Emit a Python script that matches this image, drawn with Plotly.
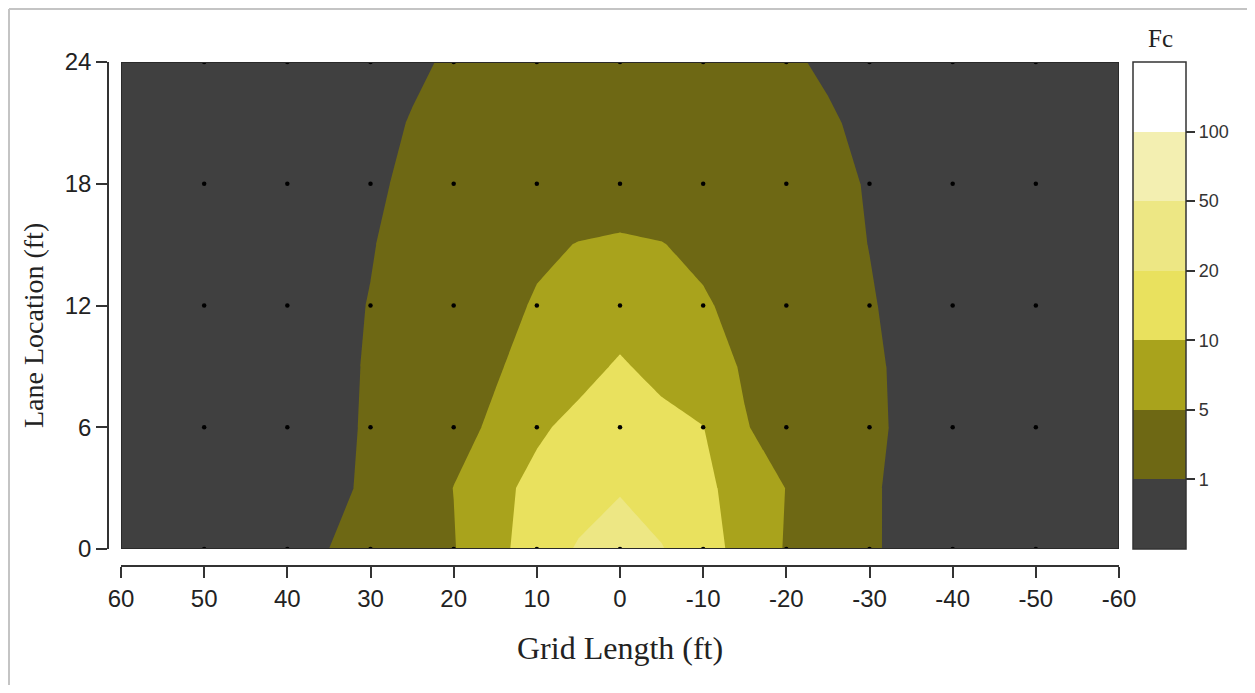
import numpy as np
import plotly.graph_objects as go

# ---- data -------------------------------------------------------------
grid_x = [60, 55, 50, 45, 40, 35, 30, 25, 20, 15, 10, 5, 0,
          -5, -10, -15, -20, -25, -30, -35, -40, -45, -50, -55, -60]
lane_y = [0, 3, 6, 9, 12, 15, 18, 21, 24]

fc_y0 = [0.1, 0.28, 0.46, 0.64, 0.82, 1.0, 2.28, 3.56, 4.82, 8.7, 14.6, 22.7, 38,
         21.5, 13.9, 8.3, 4.72, 3.08, 1.48, 0.72, 0.6, 0.5, 0.4, 0.26, 0.1]
fc_y3 = [0.1, 0.26, 0.42, 0.55, 0.66, 0.75, 1.68, 3.32, 5.05, 8.85, 12.3, 15.7, 19,
         15.4, 11.8, 8.3, 4.92, 3.24, 1.52, 0.7, 0.6, 0.5, 0.4, 0.26, 0.1]
fc_y6 = [0.1, 0.26, 0.42, 0.55, 0.67, 0.77, 1.4, 2.68, 3.96, 5.65, 9.35, 12.3, 15,
         12.6, 10.2, 5.2, 3.88, 2.72, 1.52, 0.85, 0.72, 0.58, 0.43, 0.26, 0.1]
fc_y9 = [0.1, 0.26, 0.41, 0.55, 0.68, 0.78, 1.28, 2.4, 3.52, 4.68, 6.5, 8.6, 11,
         8.7, 6.6, 4.72, 3.64, 2.52, 1.44, 0.84, 0.72, 0.58, 0.42, 0.26, 0.1]
fc_y12 = [0.1, 0.25, 0.4, 0.55, 0.7, 0.85, 1.08, 2.08, 3.12, 4.2, 5.3, 6.65, 8,
          6.65, 5.35, 4.24, 3.24, 2.2, 1.2, 0.8, 0.68, 0.55, 0.41, 0.26, 0.1]
fc_y15 = [0.1, 0.25, 0.39, 0.54, 0.68, 0.83, 0.97, 1.76, 2.68, 3.6, 4.56, 5.1, 5.25,
          5.1, 4.44, 3.56, 2.72, 1.84, 0.99, 0.85, 0.7, 0.55, 0.4, 0.25, 0.1]
fc_y18 = [0.1, 0.24, 0.38, 0.52, 0.66, 0.79, 0.93, 1.32, 1.88, 2.48, 3.04, 3.64, 4.2,
          3.64, 3.08, 2.56, 2.0, 1.44, 0.97, 0.83, 0.68, 0.54, 0.39, 0.25, 0.1]
fc_y21 = [0.1, 0.23, 0.36, 0.49, 0.62, 0.76, 0.89, 1.08, 1.52, 2.0, 2.48, 2.92, 3.4,
          2.96, 2.52, 2.08, 1.64, 1.16, 0.92, 0.78, 0.65, 0.51, 0.37, 0.24, 0.1]
fc_y24 = [0.1, 0.22, 0.34, 0.46, 0.58, 0.7, 0.82, 0.94, 1.2, 1.56, 1.92, 2.24, 2.6,
          2.24, 1.92, 1.56, 1.2, 0.95, 0.83, 0.71, 0.59, 0.47, 0.34, 0.22, 0.1]

fc_levels = [1, 5, 10, 20, 50, 100]
level_labels = ["1", "5", "10", "20", "50", "100"]

x_ticks = [60, 50, 40, 30, 20, 10, 0, -10, -20, -30, -40, -50, -60]
x_tick_labels = ["60", "50", "40", "30", "20", "10", "0",
                 "-10", "-20", "-30", "-40", "-50", "-60"]
y_ticks = [0, 6, 12, 18, 24]

gauge_x = [50, 40, 30, 20, 10, 0, -10, -20, -30, -40, -50]
gauge_y = [0, 6, 12, 18, 24]

band_colors = ["#404040", "#6e6814", "#a9a31c", "#e9e15e",
               "#ede784", "#f3efb1", "#ffffff"]

# ---- transform Fc to level index (non-uniform contour levels) ---------
fc = np.array([fc_y0, fc_y3, fc_y6, fc_y9, fc_y12, fc_y15, fc_y18, fc_y21, fc_y24])
level_idx = np.interp(fc, [0] + fc_levels, list(range(len(fc_levels) + 1)))

n = len(band_colors)
contour_scale = [[k / (n - 1), c] for k, c in enumerate(band_colors)]
bar_scale = []
for k, c in enumerate(band_colors):
    bar_scale.append([k / n, c])
    bar_scale.append([(k + 1) / n, c])

# the page body has an 8px margin, so the figure starts at (8, 8)
OFF = 8
W, H = 1255 - 2 * OFF, 693 - 2 * OFF


def px(x):
    return (x - OFF) / W


def py(y):
    return (H - (y - OFF)) / H


SANS = "Liberation Sans, Arial"
SERIF = "Liberation Serif, Times New Roman"

fig = go.Figure()

fig.add_trace(go.Contour(
    x=grid_x, y=lane_y, z=level_idx,
    contours=dict(start=1, end=len(fc_levels), size=1, coloring="fill",
                  showlines=False),
    line=dict(width=0, smoothing=0),
    colorscale=contour_scale,
    showscale=False,
    hoverinfo="skip",
))

gx, gy = np.meshgrid(gauge_x, gauge_y)
fig.add_trace(go.Scatter(
    x=gx.ravel(), y=gy.ravel(), mode="markers",
    marker=dict(color="black", size=4.5),
    showlegend=False, hoverinfo="skip",
))

# colour key
fig.add_trace(go.Scatter(
    x=[0], y=[12], mode="markers",
    marker=dict(size=1, opacity=0, color=[0], cmin=0, cmax=n,
                colorscale=bar_scale, showscale=True,
                colorbar=dict(
                    x=px(1133), xanchor="left", xpad=0,
                    y=py(62), yanchor="top", ypad=0,
                    len=(py(62) - py(549)), lenmode="fraction",
                    thickness=53, thicknessmode="pixels",
                    outlinewidth=1.5, outlinecolor="#333",
                    tickmode="array",
                    tickvals=list(range(1, len(fc_levels) + 1)),
                    ticktext=level_labels,
                    ticks="outside", ticklen=9, tickwidth=1.5, tickcolor="#333",
                    tickfont=dict(family=SANS, size=18, color="#333"),
                )),
    showlegend=False, hoverinfo="skip",
))

fig.update_layout(
    width=W, height=H,
    margin=dict(l=0, r=0, t=0, b=0, autoexpand=False),
    paper_bgcolor="white", plot_bgcolor="white",
    xaxis=dict(
        domain=[px(121), px(1119)], range=[60, -60],
        anchor="free", position=py(566), automargin=False,
        tickmode="array", tickvals=x_ticks, ticktext=x_tick_labels,
        ticks="outside", ticklen=11, tickwidth=1.5, tickcolor="#333",
        showline=True, linecolor="#333", linewidth=1.5,
        showgrid=False, zeroline=False,
        tickfont=dict(family=SANS, size=24, color="#222"),
    ),
    yaxis=dict(
        domain=[py(549), py(62)], range=[0, 24],
        anchor="free", position=px(108), automargin=False,
        tickmode="array", tickvals=y_ticks,
        ticks="outside", ticklen=11, tickwidth=1.5, tickcolor="#333",
        showline=True, linecolor="#333", linewidth=1.5,
        showgrid=False, zeroline=False,
        tickfont=dict(family=SANS, size=24, color="#222"),
    ),
    shapes=[
        dict(type="rect", xref="x", yref="y", x0=60, x1=-60, y0=0, y1=24,
             line=dict(color="#2a2a2a", width=2), layer="above"),
        dict(type="line", xref="paper", yref="paper",
             x0=px(OFF + 1), x1=px(OFF + 1), y0=0, y1=py(OFF + 1),
             line=dict(color="#c4c4c4", width=2)),
        dict(type="line", xref="paper", yref="paper",
             x0=px(OFF + 1), x1=1, y0=py(OFF + 1), y1=py(OFF + 1),
             line=dict(color="#c4c4c4", width=2)),
    ],
    annotations=[
        dict(text="Grid Length (ft)", xref="paper", yref="paper",
             x=px(620), y=py(648), showarrow=False,
             xanchor="center", yanchor="middle",
             font=dict(family=SERIF, size=32, color="#222")),
        dict(text="Lane Location (ft)", xref="paper", yref="paper",
             x=px(33), y=py(326), showarrow=False, textangle=-90,
             xanchor="center", yanchor="middle",
             font=dict(family=SERIF, size=28, color="#222")),
        dict(text="Fc", xref="paper", yref="paper", x=px(1160), y=py(39),
             showarrow=False, xanchor="center", yanchor="middle",
             font=dict(family=SERIF, size=25, color="#222")),
    ],
)

fig.write_html("out.html")
